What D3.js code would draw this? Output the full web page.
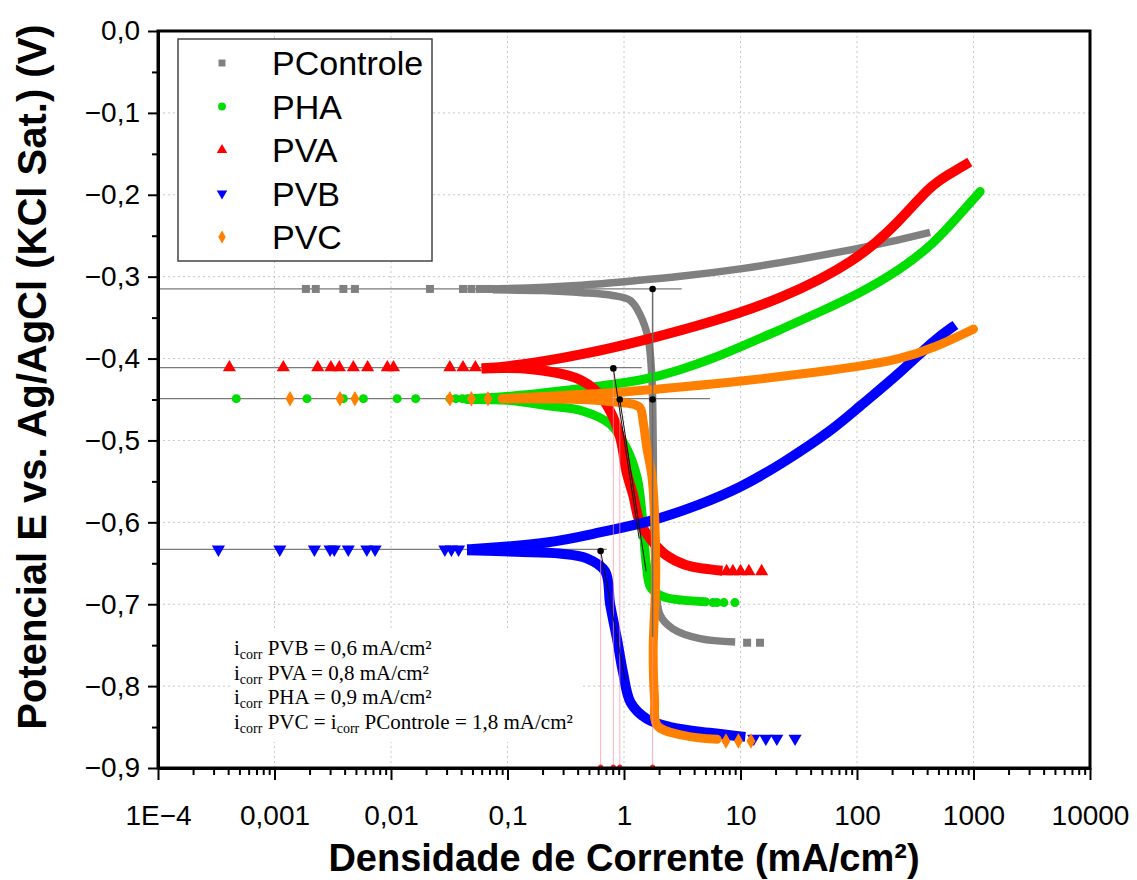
<!DOCTYPE html>
<html>
<head>
<meta charset="utf-8">
<script src="https://cdn.jsdelivr.net/npm/d3@7"></script>
<style>
body { margin: 0; background: #fff; }
text { font-family: "Liberation Sans", Arial, sans-serif; }
</style>
</head>
<body>
<script>
//tick values and labels
var xMajorTicks = [1e-4, 1e-3, 1e-2, 1e-1, 1, 10, 100, 1000, 10000];
var xTickLabels = ["1E\u22124", "0,001", "0,01", "0,1", "1", "10", "100", "1000", "10000"];
var yMajorTicks = [0, -0.1, -0.2, -0.3, -0.4, -0.5, -0.6, -0.7, -0.8, -0.9];
var yMinorTicks = [-0.05, -0.15, -0.25, -0.35, -0.45, -0.55, -0.65, -0.75, -0.85];

//series names and colours
var seriesNames = ["PControle", "PHA", "PVA", "PVB", "PVC"];
var seriesColors = ["#808080", "#00dd00", "#ff0000", "#0000ff", "#ff8000"];
var ecorrValues = [-0.315, -0.449, -0.411, -0.633, -0.449];

//isolated points sitting on Ecorr (current, mA/cm2)
var pcontroleSparse = [0.00186, 0.00226, 0.0039, 0.0049, 0.0216, 0.0415, 0.049, 0.058, 0.066, 0.073];
var phaSparse = [0.00047, 0.0019, 0.0039, 0.0058, 0.0113, 0.0163, 0.032, 0.036, 0.041];
var pvaSparse = [0.00041, 0.00119, 0.00235, 0.00305, 0.0036, 0.00475, 0.0063, 0.0093, 0.0105, 0.032, 0.0415, 0.053];
var pvbSparse = [0.00033, 0.00111, 0.0022, 0.003, 0.00326, 0.0043, 0.0062, 0.0073, 0.029, 0.033, 0.038];
var pvcSparse = [0.00136, 0.00365, 0.0049, 0.032, 0.049, 0.068];

//anodic branches [current, E]
var pcontroleAnodic = [[0.075, -0.315], [0.15, -0.314], [0.3, -0.312], [0.62, -0.309], [1, -0.306], [3, -0.3], [10, -0.291], [32, -0.279], [100, -0.266], [200, -0.257], [424, -0.246]];
var phaAnodic = [[0.045, -0.449], [0.1, -0.447], [0.42, -0.437], [1.57, -0.426], [3.03, -0.414], [5.8, -0.4], [9.9, -0.386], [21.8, -0.365], [48, -0.343], [100, -0.322], [233, -0.292], [461, -0.259], [776, -0.223], [1140, -0.196]];
var pvaAnodic = [[0.06, -0.412], [0.12, -0.409], [0.42, -0.396], [1.57, -0.377], [5.8, -0.355], [21.8, -0.328], [100, -0.281], [233, -0.232], [420, -0.19], [600, -0.176], [930, -0.16]];
var pvbAnodic = [[0.045, -0.633], [0.06, -0.632], [0.23, -0.626], [0.62, -0.612], [1.65, -0.6], [4.4, -0.579], [9.9, -0.558], [23, -0.528], [62, -0.487], [100, -0.461], [233, -0.418], [461, -0.377], [700, -0.359]];
var pvcAnodic = [[0.09, -0.449], [0.42, -0.444], [1, -0.441], [3, -0.435], [10, -0.428], [48, -0.416], [100, -0.41], [233, -0.401], [461, -0.387], [1000, -0.364]];

//cathodic branches [current, E]
var pcontroleCathodic = [[0.075, -0.316], [0.2, -0.317], [0.44, -0.3195], [0.8, -0.323], [1.13, -0.329], [1.37, -0.346], [1.61, -0.375], [1.73, -0.42], [1.78, -0.5], [1.8, -0.6], [1.86, -0.66], [2.04, -0.713], [2.63, -0.73], [4.5, -0.742], [9, -0.746]];
var phaCathodic = [[0.045, -0.45], [0.1, -0.451], [0.23, -0.458], [0.44, -0.464], [0.76, -0.48], [1.05, -0.509], [1.3, -0.546], [1.45, -0.6], [1.55, -0.65], [1.7, -0.68], [2.2, -0.691], [3.2, -0.695], [5, -0.697]];
var pvaCathodic = [[0.06, -0.412], [0.16, -0.413], [0.39, -0.424], [0.58, -0.44], [0.76, -0.464], [0.93, -0.497], [1.05, -0.538], [1.2, -0.567], [1.37, -0.6], [1.77, -0.624], [2.3, -0.64], [3.4, -0.652], [7, -0.659]];
var pvbCathodic = [[0.045, -0.634], [0.12, -0.636], [0.28, -0.638], [0.48, -0.644], [0.69, -0.66], [0.76, -0.7], [0.87, -0.742], [0.98, -0.783], [1.14, -0.82], [1.57, -0.84], [2.5, -0.85], [5.4, -0.857], [11, -0.862]];
var pvcCathodic = [[0.09, -0.449], [0.44, -0.45], [1, -0.454], [1.13, -0.455], [1.37, -0.46], [1.46, -0.477], [1.57, -0.509], [1.73, -0.542], [1.83, -0.59], [1.87, -0.672], [1.78, -0.754], [1.83, -0.816], [1.93, -0.848], [3.2, -0.86], [6.3, -0.865]];

//last separated markers of cathodic tails [current, E]
var pcontroleTail = [[11.4, -0.747], [14.7, -0.747]];
var phaTail = [[5.8, -0.698], [6.3, -0.698], [7.2, -0.698], [8.95, -0.698]];
var pvaTail = [[7.6, -0.66], [8.6, -0.66], [10, -0.66], [11.8, -0.66], [15.2, -0.66]];
var pvbTail = [[13, -0.864], [16.5, -0.864], [20.5, -0.864], [29.4, -0.864]];
var pvcTail = [[7.5, -0.867], [9.6, -0.867], [12.3, -0.867]];

//Tafel construction
var ecorrLineEnds = [[-0.315, 3.13], [-0.411, 1.42], [-0.449, 5.47], [-0.633, 0.71]];
var icorrPoints = [[0.63, -0.635], [0.81, -0.412], [0.92, -0.45], [1.76, -0.315], [1.76, -0.45]];
var tafelFits = [
	[[0.63, -0.635], [1.02, -0.792]],
	[[0.81, -0.412], [1.35, -0.62]],
	[[0.92, -0.45], [1.55, -0.66]],
	[[1.76, -0.315], [1.76, -0.74]]
];
var icorrDrops = [[0.63, -0.635], [0.81, -0.412], [0.92, -0.45], [1.76, -0.45]];

//icorr note, alternating normal text / subscript
var icorrNotes = [
	["i", "corr", " PVB = 0,6 mA/cm\u00b2"],
	["i", "corr", " PVA = 0,8 mA/cm\u00b2"],
	["i", "corr", " PHA = 0,9 mA/cm\u00b2"],
	["i", "corr", " PVC = i", "corr", " PControle = 1,8 mA/cm\u00b2"]
];

var width = 1137,
	height = 880;

var svg = d3.select("body")
	.append("svg")
	.attr("width", width)
	.attr("height", height);

var x = d3.scaleLog()
	.domain([1e-4, 1e4])
	.range([158, 1090]);

var y = d3.scaleLinear()
	.domain([-0.9, 0])
	.range([768, 31]);

//minor ticks of each decade
var xMinorTicks = [];
xMajorTicks.slice(0, -1).forEach(function(d){
	for (var k = 2; k < 10; k++) xMinorTicks.push(d * k);
});

//dotted grid
var grid = svg.append("g").attr("class", "grid");
grid.selectAll(".gx")
	.data(xMajorTicks.slice(1, -1))
	.enter()
	.append("line")
	.attr("x1", function(d){ return x(d); })
	.attr("x2", function(d){ return x(d); })
	.attr("y1", y(0))
	.attr("y2", y(-0.9))
	.attr("stroke", "#c8c8c8")
	.attr("stroke-dasharray", "2,3");
grid.selectAll(".gy")
	.data(yMajorTicks.slice(1, -1))
	.enter()
	.append("line")
	.attr("x1", x(1e-4))
	.attr("x2", x(1e4))
	.attr("y1", function(d){ return y(d); })
	.attr("y2", function(d){ return y(d); })
	.attr("stroke", "#c8c8c8")
	.attr("stroke-dasharray", "2,3");

//white box behind the note
svg.append("rect")
	.attr("x", 230)
	.attr("y", 628)
	.attr("width", 353)
	.attr("height", 114)
	.attr("fill", "#fff");

//Ecorr horizontal lines
svg.selectAll(".ecorrLine")
	.data(ecorrLineEnds)
	.enter()
	.append("line")
	.attr("class", "ecorrLine")
	.attr("x1", x(1e-4))
	.attr("x2", function(d){ return x(d[1]); })
	.attr("y1", function(d){ return y(d[0]); })
	.attr("y2", function(d){ return y(d[0]); })
	.attr("stroke", "#7a7a7a")
	.attr("stroke-width", 1.2);

//symbol generators
var symbolTypes = [d3.symbolSquare, d3.symbolCircle, d3.symbolTriangle, d3.symbolTriangle, d3.symbolDiamond];
var symbolSizes = [64, 64, 75, 75, 70];
var symbolRotate = [0, 0, 0, 180, 0];
var bandWidths = [7.5, 9, 10, 10, 9];
var bandCaps = ["butt", "round", "butt", "butt", "round"];

var sparseSets = [pcontroleSparse, phaSparse, pvaSparse, pvbSparse, pvcSparse];
var anodicSets = [pcontroleAnodic, phaAnodic, pvaAnodic, pvbAnodic, pvcAnodic];
var cathodicSets = [pcontroleCathodic, phaCathodic, pvaCathodic, pvbCathodic, pvcCathodic];
var tailSets = [pcontroleTail, phaTail, pvaTail, pvbTail, pvcTail];

//smooth spline for the anodic branches, through-the-points for the cathodic ones
var anodicLine = d3.line()
	.x(function(d){ return x(d[0]); })
	.y(function(d){ return y(d[1]); })
	.curve(d3.curveBasis);

var cathodicLine = d3.line()
	.x(function(d){ return x(d[0]); })
	.y(function(d){ return y(d[1]); })
	.curve(d3.curveCatmullRom.alpha(0.5));

seriesNames.forEach(function(name, s){
	var g = svg.append("g").attr("class", "series " + name);
	var sym = d3.symbol().type(symbolTypes[s]).size(symbolSizes[s]);

	[[anodicSets[s], anodicLine], [cathodicSets[s], cathodicLine]].forEach(function(b){
		g.append("path")
			.datum(b[0])
			.attr("d", b[1])
			.attr("fill", "none")
			.attr("stroke", seriesColors[s])
			.attr("stroke-width", bandWidths[s])
			.attr("stroke-linecap", bandCaps[s])
			.attr("stroke-linejoin", "round");
	});

	var pts = sparseSets[s].map(function(i){ return [i, ecorrValues[s]]; }).concat(tailSets[s]);
	g.selectAll(".pt")
		.data(pts)
		.enter()
		.append("path")
		.attr("d", sym)
		.attr("transform", function(d){
			return "translate(" + x(d[0]) + "," + y(d[1]) + ") rotate(" + symbolRotate[s] + ")";
		})
		.attr("fill", seriesColors[s]);
});

//pink drop lines to the axis
svg.selectAll(".drop")
	.data(icorrDrops)
	.enter()
	.append("line")
	.attr("x1", function(d){ return x(d[0]); })
	.attr("x2", function(d){ return x(d[0]); })
	.attr("y1", function(d){ return y(d[1]); })
	.attr("y2", y(-0.9))
	.attr("stroke", "#ff8fa8")
	.attr("stroke-opacity", 0.7)
	.attr("stroke-width", 1);

svg.selectAll(".dropDot")
	.data(icorrDrops)
	.enter()
	.append("circle")
	.attr("cx", function(d){ return x(d[0]); })
	.attr("cy", y(-0.9) - 1)
	.attr("r", 2.5)
	.attr("fill", "#ff2020");

//Tafel fit lines
svg.selectAll(".fit")
	.data(tafelFits)
	.enter()
	.append("line")
	.attr("x1", function(d){ return x(d[0][0]); })
	.attr("y1", function(d){ return y(d[0][1]); })
	.attr("x2", function(d){ return x(d[1][0]); })
	.attr("y2", function(d){ return y(d[1][1]); })
	.attr("stroke", function(d, i){ return i == 3 ? "#6a6a6a" : "#111"; })
	.attr("stroke-width", function(d, i){ return i == 3 ? 1.5 : 1; });

svg.selectAll(".icorrDot")
	.data(icorrPoints)
	.enter()
	.append("circle")
	.attr("cx", function(d){ return x(d[0]); })
	.attr("cy", function(d){ return y(d[1]); })
	.attr("r", 3.3)
	.attr("fill", "#000");

//axes
var xAxis = d3.axisBottom(x)
	.tickValues(xMajorTicks)
	.tickSize(12)
	.tickSizeOuter(0)
	.tickPadding(25)
	.tickFormat(function(d, i){ return xTickLabels[i]; });

var xAxisMinor = d3.axisBottom(x)
	.tickValues(xMinorTicks)
	.tickSize(7)
	.tickSizeOuter(0)
	.tickFormat("");

var yAxis = d3.axisLeft(y)
	.tickValues(yMajorTicks)
	.tickSize(10)
	.tickSizeOuter(0)
	.tickPadding(8)
	.tickFormat(function(d){ return d3.format(".1f")(d).replace(".", ","); });

var yAxisMinor = d3.axisLeft(y)
	.tickValues(yMinorTicks)
	.tickSize(6)
	.tickSizeOuter(0)
	.tickFormat("");

svg.append("g").attr("transform", "translate(0," + y(-0.9) + ")").call(xAxisMinor);
svg.append("g").attr("class", "xaxis").attr("transform", "translate(0," + y(-0.9) + ")").call(xAxis);
svg.append("g").attr("transform", "translate(" + x(1e-4) + ",0)").call(yAxisMinor);
svg.append("g").attr("class", "yaxis").attr("transform", "translate(" + x(1e-4) + ",0)").call(yAxis);

svg.selectAll(".tick line").attr("stroke", "#000").attr("stroke-width", 2);
svg.selectAll(".domain").attr("stroke", "#000").attr("stroke-width", 3);
svg.selectAll(".tick text")
	.attr("fill", "#000")
	.style("font-size", "28px")
	.style("font-family", "'Liberation Sans', Arial, sans-serif");

//frame
svg.append("rect")
	.attr("x", x(1e-4))
	.attr("y", y(0))
	.attr("width", x(1e4) - x(1e-4))
	.attr("height", y(-0.9) - y(0))
	.attr("fill", "none")
	.attr("stroke", "#000")
	.attr("stroke-width", 3);

//axis titles
svg.append("text")
	.attr("x", 624)
	.attr("y", 871)
	.attr("text-anchor", "middle")
	.style("font-size", "38px")
	.style("font-weight", "bold")
	.text("Densidade de Corrente (mA/cm\u00b2)");

svg.append("text")
	.attr("transform", "translate(46,377) rotate(-90)")
	.attr("text-anchor", "middle")
	.style("font-size", "40px")
	.style("font-weight", "bold")
	.text("Potencial E vs. Ag/AgCl (KCl Sat.) (V)");

//legend
var legend = svg.append("g").attr("class", "legend");
legend.append("rect")
	.attr("x", 178)
	.attr("y", 39)
	.attr("width", 254)
	.attr("height", 222)
	.attr("fill", "#fff")
	.attr("stroke", "#444")
	.attr("stroke-width", 1.5);

seriesNames.forEach(function(name, s){
	var cy = 63 + s * 43.5;
	legend.append("path")
		.attr("d", d3.symbol().type(symbolTypes[s]).size(48)())
		.attr("transform", "translate(222," + cy + ") rotate(" + symbolRotate[s] + ")")
		.attr("fill", seriesColors[s]);
	legend.append("text")
		.attr("x", 272)
		.attr("y", cy + 12)
		.style("font-size", "34px")
		.text(name);
});

//icorr note
var note = svg.append("g").attr("class", "note");
icorrNotes.forEach(function(parts, r){
	var t = note.append("text")
		.attr("x", 234)
		.attr("y", 655 + r * 24.5)
		.style("font-family", "'Liberation Serif', 'Times New Roman', serif")
		.style("font-size", "21px");
	parts.forEach(function(p, k){
		var sub = k % 2 == 1;
		t.append("tspan")
			.attr("dy", sub ? 4 : (k > 0 ? -4 : 0))
			.style("font-size", sub ? "14px" : "21px")
			.text(p);
	});
});
</script>
</body>
</html>
